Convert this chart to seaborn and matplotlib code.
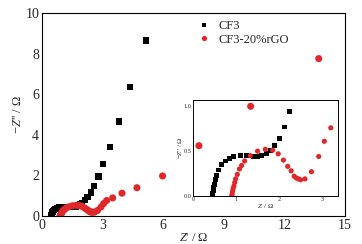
import numpy as np
import pandas as pd
import seaborn as sns
import matplotlib.pyplot as plt
from matplotlib.ticker import MultipleLocator

# CF3 (black squares): Z' / Ohm, -Z'' / Ohm
cf3_x = [0.45, 0.46, 0.47, 0.48, 0.50, 0.52, 0.55, 0.60, 0.67, 0.75, 0.85, 0.95,
         1.10, 1.25, 1.40, 1.50, 1.60, 1.70, 1.80, 1.90, 2.00, 2.12, 2.25,
         2.43, 2.57, 2.80, 3.02, 3.35, 3.80, 4.34, 5.13]
cf3_y = [0.00, 0.03, 0.06, 0.09, 0.13, 0.18, 0.23, 0.29, 0.35, 0.39, 0.42, 0.44,
         0.45, 0.45, 0.44, 0.44, 0.45, 0.47, 0.51, 0.56, 0.64, 0.77, 0.94,
         1.15, 1.49, 1.94, 2.56, 3.41, 4.65, 6.34, 8.64]

# CF3-20%rGO (red circles)
rgo_x = [0.90, 0.91, 0.92, 0.93, 0.95, 0.97, 0.99, 1.03, 1.08, 1.13, 1.20, 1.33,
         1.50, 1.68, 1.85, 1.98, 2.10, 2.20, 2.28, 2.35, 2.40, 2.45, 2.50, 2.60,
         2.75, 2.92, 3.05, 3.20, 3.50, 3.96, 4.70, 5.97, 7.77, 10.33, 13.70]
rgo_y = [0.00, 0.02, 0.05, 0.08, 0.11, 0.15, 0.19, 0.24, 0.30, 0.34, 0.39, 0.45,
         0.50, 0.52, 0.51, 0.47, 0.40, 0.33, 0.28, 0.22, 0.20, 0.19, 0.18, 0.19,
         0.27, 0.44, 0.61, 0.76, 0.89, 1.12, 1.39, 1.97, 3.46, 5.40, 7.75]

df = pd.concat([
    pd.DataFrame({'x': cf3_x, 'y': cf3_y, 'sample': 'CF3'}),
    pd.DataFrame({'x': rgo_x, 'y': rgo_y, 'sample': 'CF3-20%rGO'}),
])

sns.set_style('white')
plt.rcParams['font.family'] = ['Liberation Serif', 'DejaVu Serif']
plt.rcParams['mathtext.fontset'] = 'custom'
plt.rcParams['mathtext.it'] = 'Liberation Serif:italic'
plt.rcParams['mathtext.rm'] = 'Liberation Serif'

palette = {'CF3': 'black', 'CF3-20%rGO': '#e0272a'}
markers = {'CF3': 's', 'CF3-20%rGO': 'o'}
sizes = {'CF3': 20, 'CF3-20%rGO': 26}

fig = plt.figure(figsize=(3.62, 2.44), dpi=100)
ax = fig.add_axes([0.116, 0.115, 0.837, 0.832])
sns.scatterplot(data=df, x='x', y='y', hue='sample', style='sample',
                size='sample', sizes=sizes,
                palette=palette, markers=markers, linewidth=0, ax=ax)
ax.set_xlim(0, 15)
ax.set_ylim(0, 10)
ax.xaxis.set_major_locator(MultipleLocator(3))
ax.xaxis.set_minor_locator(MultipleLocator(1.5))
ax.yaxis.set_major_locator(MultipleLocator(2))
ax.yaxis.set_minor_locator(MultipleLocator(1))
ax.tick_params(which='both', direction='in', labelsize=10, pad=2)
ax.tick_params(which='major', length=3)
ax.tick_params(which='minor', length=1.5)
ax.set_xlabel("$Z$' / Ω", fontsize=9, labelpad=0)
ax.set_ylabel("−$Z$'' / Ω", fontsize=9, labelpad=1)
for sp in ax.spines.values():
    sp.set_linewidth(0.8)
    sp.set_color('black')
ax.legend(loc='upper left', bbox_to_anchor=(0.47, 1.0), frameon=False,
          fontsize=9, handletextpad=0.1, borderaxespad=0.2, labelspacing=0.1,
          markerscale=0.75)

# inset
ins = fig.add_axes([0.533, 0.197, 0.401, 0.393])
ins.set_facecolor('none')
sns.scatterplot(data=df, x='x', y='y', hue='sample', style='sample',
                size='sample', sizes={'CF3': 12, 'CF3-20%rGO': 14},
                palette=palette, markers=markers, linewidth=0,
                legend=False, ax=ins)
ins.set_xlim(0, 3.37)
ins.set_ylim(0, 1.07)
ins.xaxis.set_major_locator(MultipleLocator(1))
ins.yaxis.set_major_locator(MultipleLocator(0.5))
ins.yaxis.set_major_formatter('{x:.1f}')
ins.tick_params(direction='in', labelsize=4.5, length=1.5, pad=1)
ins.set_xlabel("$Z$' / Ω", fontsize=5, labelpad=0)
ins.set_ylabel("−$Z$'' / Ω", fontsize=5, labelpad=0)
for sp in ins.spines.values():
    sp.set_linewidth(0.7)
    sp.set_color('black')

fig.savefig('out.png', dpi=100)
